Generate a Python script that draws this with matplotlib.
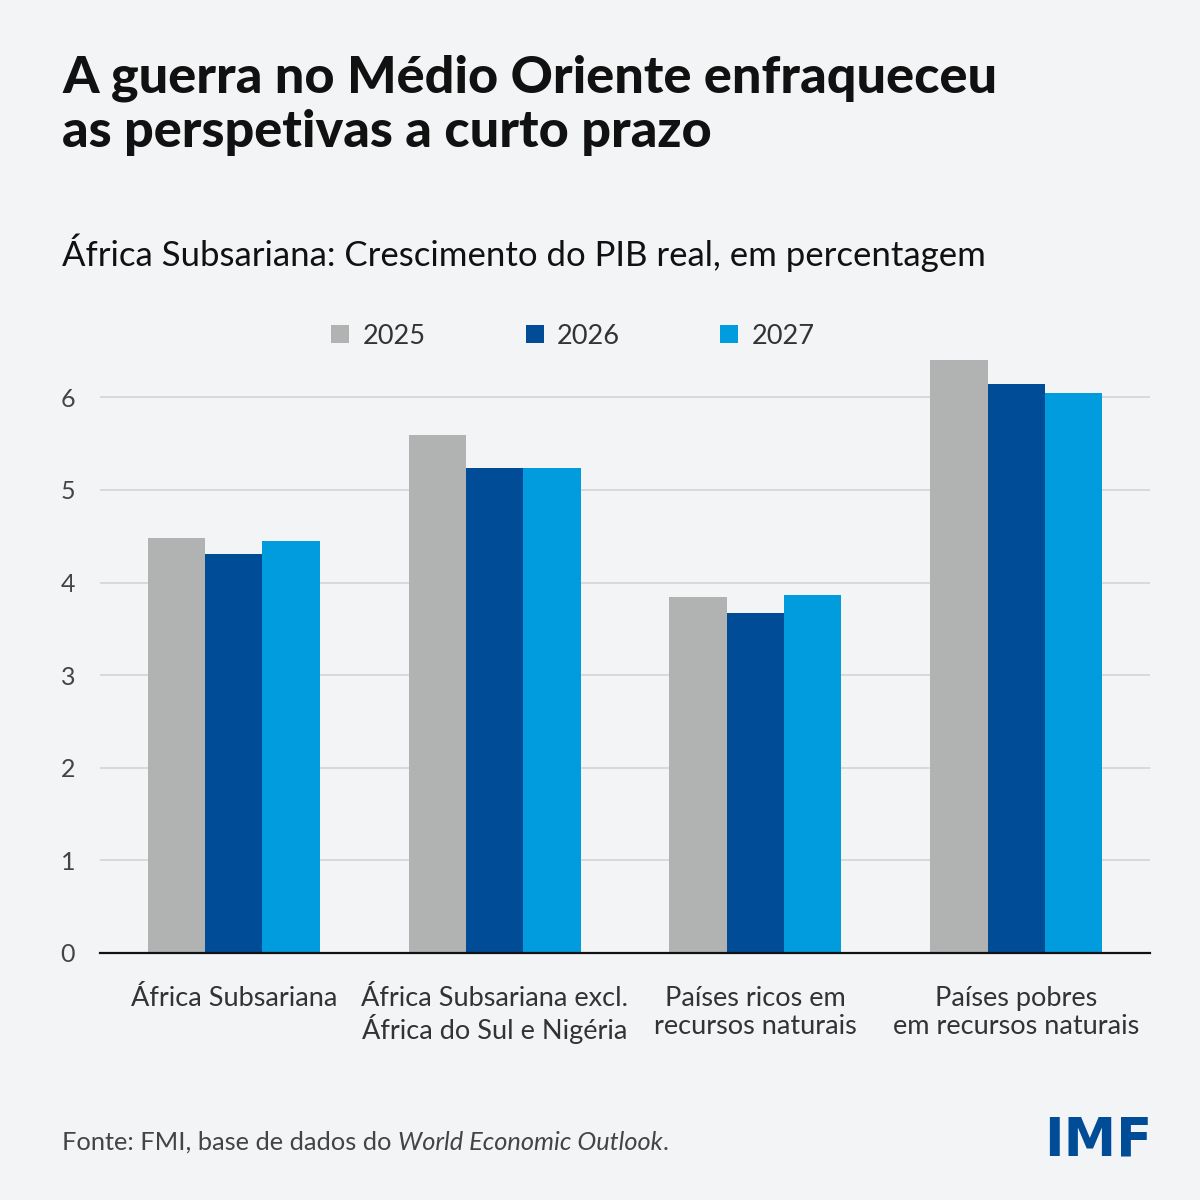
import matplotlib
matplotlib.use("Agg")
import matplotlib.pyplot as plt
from matplotlib.patches import Patch
import numpy as np

categories = ["África Subsariana",
              "África Subsariana excl.\nÁfrica do Sul e Nigéria",
              "Países ricos em\nrecursos naturais",
              "Países pobres\nem recursos naturais"]
years = ["2025", "2026", "2027"]
v2025 = [4.48, 5.59, 3.84, 6.40]
v2026 = [4.31, 5.24, 3.67, 6.14]
v2027 = [4.45, 5.24, 3.87, 6.05]
yticks = [0, 1, 2, 3, 4, 5, 6]

colors = ["#b1b3b3", "#004c97", "#009cde"]
bg = "#f3f4f6"
FONT = ["Lato", "DejaVu Sans"]
plt.rcParams["font.family"] = FONT

fig = plt.figure(figsize=(12, 12), dpi=100, facecolor=bg)
ax = fig.add_axes([100/1200, 1-953/1200, 1050/1200, 602/1200], facecolor=bg)

x = np.arange(len(categories))
w = 0.22
for i, (vals, c) in enumerate(zip([v2025, v2026, v2027], colors)):
    ax.bar(x + (i-1)*w, vals, width=w, color=c, zorder=3, linewidth=0)

ax.set_xlim(-0.513, 3.513)
ax.set_ylim(0, 6.5)
ax.set_yticks(yticks)
ax.set_yticklabels([str(t) for t in yticks], fontsize=18, color="#444444")
ax.tick_params(axis="y", length=0, pad=18)
ax.set_xticks(x)
ax.set_xticklabels(categories, fontsize=19.5, color="#333333", linespacing=1.12)
ax.tick_params(axis="x", length=0, pad=24)
for sp in ["top", "right", "left"]:
    ax.spines[sp].set_visible(False)
ax.spines["bottom"].set_color("#111111")
ax.spines["bottom"].set_linewidth(1.6)
ax.spines["bottom"].set_zorder(5)
ax.grid(axis="y", color="#d8d9db", linewidth=1.4, zorder=0)
ax.set_axisbelow(True)

# Title and subtitle
fig.text(62/1200, 1-92/1200, "A guerra no Médio Oriente enfraqueceu",
         fontsize=37.5, fontweight="black", color="#111111", ha="left", va="baseline")
fig.text(62/1200, 1-147/1200, "as perspetivas a curto prazo",
         fontsize=37.5, fontweight="black", color="#111111", ha="left", va="baseline")
fig.text(62/1200, 1-266/1200, "África Subsariana: Crescimento do PIB real, em percentagem",
         fontsize=25, color="#111111", ha="left", va="baseline")

# Legend
handles = [Patch(facecolor=c, edgecolor="none") for c in colors]
fig.legend(handles, years, ncol=3, loc="center", bbox_to_anchor=(573/1200, 1-336/1200),
           frameon=False, fontsize=19.5, handlelength=0.66, handleheight=0.66,
           handletextpad=0.5, columnspacing=3.7, labelcolor="#333333")

# Footer
fig.canvas.draw()
r = fig.canvas.get_renderer()
fs = 18.3
t1 = fig.text(62/1200, 1-1150/1200, "Fonte: FMI, base de dados do ", fontsize=fs,
              color="#444444", ha="left", va="baseline")
bb = t1.get_window_extent(renderer=r)
t2 = fig.text(bb.x1/1200, 1-1150/1200, "World Economic Outlook", fontsize=fs,
              color="#444444", ha="left", va="baseline", style="italic")
bb2 = t2.get_window_extent(renderer=r)
fig.text(bb2.x1/1200, 1-1150/1200, ".", fontsize=fs, color="#444444",
         ha="left", va="baseline")

fig.text(1152/1200, 1-1156/1200, "IMF", fontsize=38, fontweight="bold",
         family=["Liberation Sans Narrow", "DejaVu Sans"], color="#004c97",
         ha="right", va="baseline")

fig.savefig("out.png", dpi=100, facecolor=bg)
